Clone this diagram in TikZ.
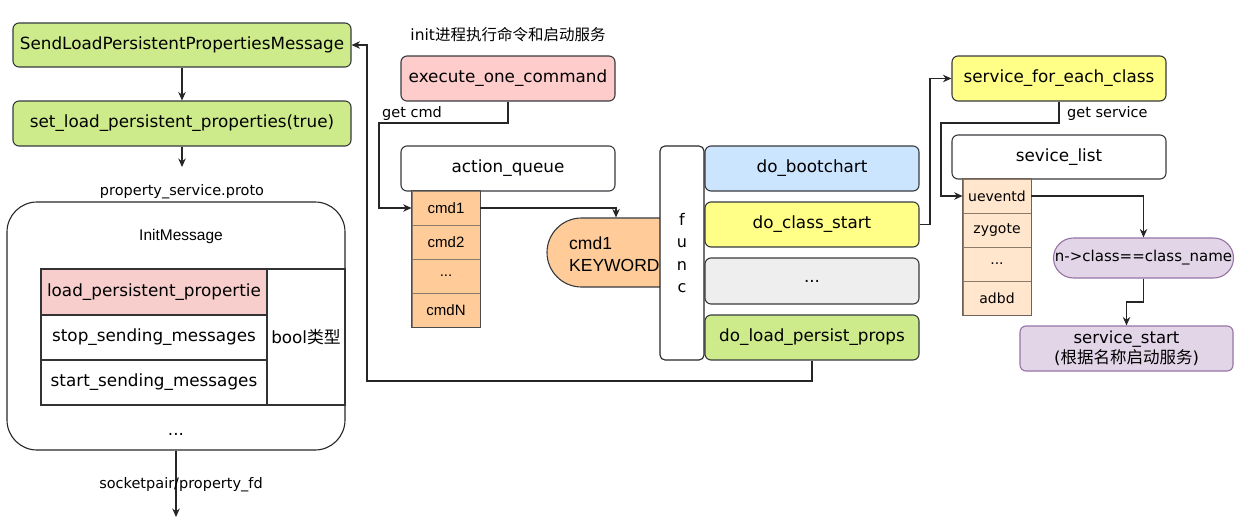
\documentclass[tikz,border=0pt]{standalone}
\usepackage{fontspec}
\setmainfont{DejaVu Sans}
\newfontfamily\helv{Liberation Sans}
\newfontfamily\cjk{Noto Sans CJK SC}
\usetikzlibrary{arrows.meta,shapes.misc}
\definecolor{cgreen}{HTML}{CDEB8B}
\definecolor{cpink}{HTML}{FFCCCC}
\definecolor{cpinkrow}{HTML}{F8CECC}
\definecolor{cblue}{HTML}{CCE5FF}
\definecolor{cyellow}{HTML}{FFFF88}
\definecolor{cgray}{HTML}{EEEEEE}
\definecolor{corange}{HTML}{FFCC99}
\definecolor{clorange}{HTML}{FFE6CC}
\definecolor{cpurple}{HTML}{E1D5E7}
\definecolor{cpurpled}{HTML}{9673A6}
\definecolor{cstroke}{HTML}{36393D}
\definecolor{ccell}{HTML}{8C7B6B}
\newcommand{\bxf}{\fontsize{16.8}{20}\selectfont}
\newcommand{\smf}{\fontsize{14.5}{17}\selectfont}
\tikzset{
  box/.style={draw=cstroke,line width=1.1pt,rounded corners=6pt,minimum width=#1,inner sep=0pt,font=\bxf},
  box/.default=214pt,
  cell/.style={draw=ccell,line width=0.8pt,minimum width=68pt,minimum height=34pt,inner sep=0pt,font=\fontsize{14}{16}\selectfont},
  tcell/.style={draw=black!80,line width=1.1pt,inner sep=0pt,font=\bxf},
  lbl/.style={inner sep=0pt,font=\smf},
  conn/.style={draw=black!85,line width=1.1pt},
  arr/.style={conn,-{Stealth[length=8.5pt,width=7.5pt]}},
}
\begin{document}
\begin{tikzpicture}[x=1pt,y=-1pt]
\useasboundingbox (0,0) rectangle (1252,522);
% left column
\node[box=338pt,fill=cgreen,minimum height=44pt] (send) at (182,45) {SendLoadPersistentPropertiesMessage};
\node[box=338pt,fill=cgreen,minimum height=45pt] (setl) at (182,123.5) {set\_load\_persistent\_properties(true)};
\coordinate (setend) at (182,167);
\draw[arr] (send.south) -- (setl.north);
\draw[arr] (setl.south) -- (setend);
\node[lbl] (proto) at (182,192) {property\_service.proto};
\node[draw=black!85,line width=1.1pt,rounded corners=30pt,minimum width=338pt,minimum height=248pt,inner sep=0pt] (initbox) at (176,326) {};
\node[inner sep=0pt,font=\helv\fontsize{15.5}{18}\selectfont] (initlbl) at (181,236) {InitMessage};
\node[tcell,fill=cpinkrow,minimum width=226pt,minimum height=46pt] (r1) at (154,292) {load\_persistent\_propertie};
\node[tcell,minimum width=226pt,minimum height=45pt] (r2) at (154,337.5) {stop\_sending\_messages};
\node[tcell,minimum width=226pt,minimum height=45pt] (r3) at (154,382.5) {start\_sending\_messages};
\node[tcell,minimum width=78pt,minimum height=136pt] (bool) at (306,337) {bool{\cjk 类型}};
\node[inner sep=0pt,font=\bxf] (idots) at (176,434) {...};
\coordinate (sockend) at (176,517);
\draw[arr] (initbox.south) -- (sockend);
\node[lbl] (sock) at (181,485) {socketpair/property\_fd};
% middle
\node[lbl,font=\fontsize{15.5}{18}\selectfont] (ilab) at (508,35) {init{\cjk 进程执行命令和启动服务}};
\node[box,fill=cpink,minimum height=45pt] (exec) at (508,78.5) {execute\_one\_command};
\node[box,fill=white,minimum height=45pt] (aq) at (508,168.5) {action\_queue};
\node[cell,fill=corange,font=\helv\fontsize{15}{17}\selectfont] (c1) at (446,208) {cmd1};
\node[cell,fill=corange,font=\helv\fontsize{15}{17}\selectfont] (c2) at (446,242) {cmd2};
\node[cell,fill=corange,font=\helv\fontsize{15}{17}\selectfont] (c3) at (446,276) {...};
\node[cell,fill=corange,font=\helv\fontsize{15}{17}\selectfont] (c4) at (446,310) {cmdN};
\draw[draw=black!70,line width=1pt] (c1.north west) rectangle (c4.south east);
\node[lbl,anchor=west] (getcmd) at (382,113) {get cmd};
\draw[arr] (exec.south) -- (508,123) -- (379,123) -- (379,208) -- (c1.west);
\node[rounded rectangle,rounded rectangle right arc=none,draw=cstroke,line width=1.1pt,fill=corange,minimum width=138pt,minimum height=69pt,inner sep=0pt] (kw) at (616,252.5) {};
\node[inner sep=0pt,anchor=west,align=left,font=\helv\fontsize{17.5}{22}\selectfont] (kwt) at (569,254) {cmd1\\KEYWORD};
\draw[arr] (c1.east) -- (616,208) -- (kw.north);
\node[draw=black!85,line width=1.1pt,fill=white,rounded corners=5pt,minimum width=44pt,minimum height=214pt,inner sep=0pt,align=center,font=\fontsize{16}{22.3}\selectfont] (func) at (682,253) {f\\u\\n\\c};
\node[box,fill=cblue,minimum height=45pt] (boot) at (812,168.5) {do\_bootchart};
\node[box,fill=cyellow,minimum height=45pt] (cls) at (812,224.5) {do\_class\_start};
\node[box,fill=cgray,minimum height=46pt] (fdots) at (812,281) {...};
\node[box,fill=cgreen,minimum height=45pt] (loadp) at (812,337.5) {do\_load\_persist\_props};
\draw[arr] (loadp.south) -- (812,381) -- (367,381) -- (367,45) -- (send.east);
% right
\node[box,fill=cyellow,minimum height=45pt] (sfec) at (1059,78.5) {service\_for\_each\_class};
\draw[arr] (cls.east) -- (930,224.5) -- (930,78.5) -- (sfec.west);
\node[lbl,anchor=west] (getsvc) at (1067,113) {get service};
\node[box,fill=white,minimum height=44pt] (slist) at (1059,157) {sevice\_list};
\node[cell,fill=clorange] (s1) at (997,196) {ueventd};
\node[cell,fill=clorange] (s2) at (997,230) {zygote};
\node[cell,fill=clorange] (s3) at (997,264) {...};
\node[cell,fill=clorange] (s4) at (997,298) {adbd};
\draw[draw=ccell!80!black,line width=1pt] (s1.north west) rectangle (s4.south east);
\draw[arr] (sfec.south) -- (1059,123) -- (941,123) -- (941,196) -- (s1.west);
\node[rounded rectangle,draw=cpurpled,line width=1.1pt,fill=cpurple,minimum width=179pt,minimum height=40pt,inner sep=0pt,font=\fontsize{15}{18}\selectfont] (ncls) at (1143.5,258) {n->class==class\_name};
\draw[arr] (s1.east) -| (ncls.north);
\node[box=213pt,draw=cpurpled,fill=cpurple,minimum height=45pt,align=center,font=\fontsize{16.5}{20}\selectfont] (sstart) at (1126.5,348.5) {service\_start\\({\cjk 根据名称启动服务})};
\draw[arr] (ncls.south) -- (1143.5,302) -- (1126.5,302) -- (sstart.north);
\end{tikzpicture}
\end{document}
